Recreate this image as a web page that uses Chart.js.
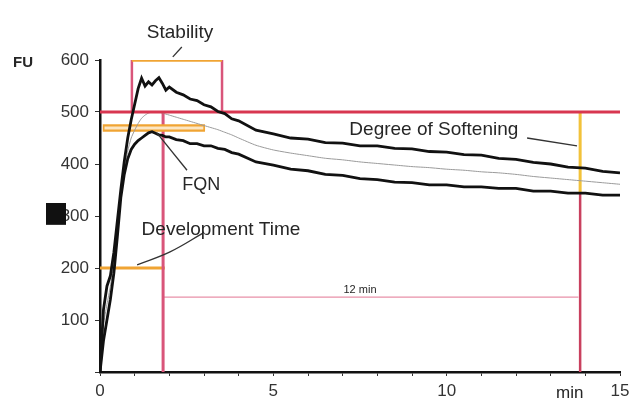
<!DOCTYPE html>
<html>
<head>
<meta charset="utf-8">
<script src="https://cdn.jsdelivr.net/npm/chart.js@4/dist/chart.umd.min.js"></script>
<style>
  html, body { margin: 0; padding: 0; background: #fff; }
  #wrap { width: 638px; height: 407px; }
</style>
</head>
<body>
<div id="wrap"><canvas id="farino" width="638" height="407"></canvas></div>
<script>
// ═══ 파리노그래프 데이터 ═══
const times   = [0, 0.1, 0.2, 0.3, 0.4, 0.5, 0.6, 0.7, 0.8, 0.9, 1.0, 1.1, 1.2, 1.3, 1.4, 1.5, 1.6, 1.7, 1.8, 1.9,
                 2.0, 2.2, 2.4, 2.6, 2.8, 3.0, 3.2, 3.4, 3.6, 3.8, 4.0, 4.5, 5, 5.5, 6, 6.5, 7, 7.5, 8, 8.5,
                 9, 9.5, 10, 10.5, 11, 11.5, 12, 12.5, 13, 13.5, 14, 14.5, 15];
const upperFU = [0, 120, 165, 185, 230, 290, 350, 405, 450, 485, 515, 545, 565, 550, 558, 552, 560, 566, 555, 542,
                 548, 538, 533, 525, 522, 514, 510, 501, 497, 487, 483, 465, 458, 450, 448, 441, 440, 435, 435, 430,
                 429, 424, 423, 418, 417, 411, 409, 403, 400, 394, 392, 386, 383];
const lowerFU = [0, 60, 100, 140, 190, 260, 335, 380, 410, 428, 438, 445, 450, 455, 460, 462, 459, 456, 455, 452,
                 452, 447, 445, 439, 439, 435, 435, 430, 428, 422, 419, 404, 398, 390, 387, 380, 378, 372, 370, 365,
                 364, 360, 360, 356, 356, 353, 353, 348, 348, 344, 344, 340, 340];
const midFU   = [0, 90, 130, 165, 210, 275, 340, 390, 425, 450, 465, 478, 488, 494, 498, 500, 501, 500, 498, 496,
                 494, 490, 486, 482, 478, 474, 470, 466, 461, 456, 450, 436, 427, 421, 416, 411, 408, 404, 401, 398,
                 395, 393, 390, 388, 385, 383, 380, 376, 373, 370, 367, 364, 361];

const xTickLabels = ['0', '5', '10', '15'];
const yTickLabels = ['100', '200', '300', '400', '500', '600'];

// 평가 지표 (분, FU)
const consistencyLine = 500;
const stabilityStart  = 0.92;
const stabilityEnd    = 3.52;
const fqnTime         = 1.82;
const devTimeFU       = 200;
const softeningTime   = 13.85;
const softeningFU     = 344;
const bandFU          = 469;
const bandStart       = 0.08;
const bandEnd         = 3.03;
const twelveMinFU     = 144;

const RED    = '#d83650';
const PINK   = '#d9557a';
const ORANGE = '#f0a433';
const FONT   = '"Liberation Sans", Arial, sans-serif';

function pts(xs, ys) {
    return xs.map((x, i) => ({ x, y: ys[i] }));
}
function seg(x1, y1, x2, y2, color, width, extra) {
    return Object.assign({
        data: [{ x: x1, y: y1 }, { x: x2, y: y2 }],
        borderColor: color, borderWidth: width,
        pointRadius: 0, tension: 0, fill: false
    }, extra || {});
}

const labelTexts = [
    { text: 'Stability',           x: 2.31, y: 652, size: 19 },
    { text: 'Degree of Softening', x: 9.63, y: 465, size: 19 },
    { text: 'FQN',                 x: 2.92, y: 360, size: 18 },
    { text: 'Development Time',    x: 3.49, y: 273, size: 19 },
    { text: '12 min',              x: 7.5,  y: 158, size: 11 }
];

const textPlugin = {
    id: 'farinoText',
    afterDraw(chart) {
        const { ctx, scales: { x, y } } = chart;
        ctx.save();
        ctx.fillStyle = '#262626';
        ctx.textAlign = 'center';
        ctx.textBaseline = 'middle';
        labelTexts.forEach(l => {
            ctx.font = `${l.size}px ${FONT}`;
            ctx.fillText(l.text, x.getPixelForValue(l.x), y.getPixelForValue(l.y));
        });
        ctx.font = `bold 15px ${FONT}`;
        ctx.fillText('FU', 23, y.getPixelForValue(600) + 3);
        ctx.font = `17px ${FONT}`;
        ctx.fillText('min', x.getPixelForValue(13.55), 393);
        // 300 라벨의 '3'을 덮는 검은 사각형
        ctx.fillStyle = '#111';
        const top = y.getPixelForValue(325), bot = y.getPixelForValue(283);
        ctx.fillRect(46, top, 20, bot - top);
        ctx.restore();
    }
};

// 배열 앞쪽이 위에 그려짐
new Chart(document.getElementById('farino'), {
    type: 'line',
    data: {
        datasets: [
            // 지시선
            seg(2.36, 625, 2.1, 606, '#333', 1.3, { clip: false }),
            seg(12.32, 450, 13.76, 435, '#333', 1.3),
            seg(2.51, 388, 1.64, 460, '#333', 1.3),
            { data: [{ x: 2.97, y: 267 }, { x: 2.02, y: 231 }, { x: 1.07, y: 206 }],
              borderColor: '#333', borderWidth: 1.3, pointRadius: 0, tension: 0.4 },
            // 곡선
            { data: pts(times, upperFU), borderColor: '#111', borderWidth: 2.8, pointRadius: 0, tension: 0 },
            { data: pts(times, lowerFU), borderColor: '#111', borderWidth: 2.8, pointRadius: 0, tension: 0 },
            seg(0, consistencyLine, 15, consistencyLine, RED, 3.2),
            { data: pts(times, midFU),   borderColor: '#9a9a9a', borderWidth: 1, pointRadius: 0, tension: 0.2 },
            // 안정도 박스 / 평가선
            seg(bandStart + 0.05, bandFU, bandEnd - 0.05, bandFU, '#fbe6c4', 3),
            seg(bandStart, bandFU, bandEnd, bandFU, ORANGE, 7.5),
            seg(stabilityStart, 600, stabilityEnd, 600, ORANGE, 3.5),
            seg(stabilityStart, consistencyLine, stabilityStart, 600, PINK, 2.5),
            seg(stabilityEnd, consistencyLine, stabilityEnd, 600, PINK, 2.5),
            seg(fqnTime, 0, fqnTime, consistencyLine, PINK, 3),
            seg(0, devTimeFU, fqnTime + 0.05, devTimeFU, ORANGE, 3),
            seg(softeningTime, consistencyLine, softeningTime, softeningFU, '#f2c23a', 3),
            seg(softeningTime, softeningFU, softeningTime, 0, '#c9405e', 2.5),
            seg(fqnTime, twelveMinFU, softeningTime - 0.05, twelveMinFU, '#e890a8', 1.2)
        ]
    },
    options: {
        responsive: false,
        animation: false,
        events: [],
        layout: { padding: { top: 60, right: 18, left: 0, bottom: 0 } },
        plugins: { legend: { display: false }, tooltip: { enabled: false } },
        scales: {
            x: {
                type: 'linear', min: 0, max: 15,
                afterFit: s => { s.height = 35; },
                border: { color: '#111', width: 2.5 },
                grid: { drawOnChartArea: false, drawTicks: true, tickLength: 4, color: '#333' },
                ticks: {
                    stepSize: 1, autoSkip: false, maxRotation: 0, padding: 5,
                    color: '#333', font: { size: 17, family: FONT },
                    callback: v => (v % 5 === 0 ? xTickLabels[v / 5] : '')
                }
            },
            y: {
                min: 0, max: 600,
                afterFit: s => { s.width = 100; },
                border: { color: '#111', width: 2.5 },
                grid: { drawOnChartArea: false, drawTicks: true, tickLength: 5, color: '#333' },
                ticks: {
                    stepSize: 100, padding: 6,
                    color: '#333', font: { size: 17, family: FONT },
                    callback: v => (v === 0 ? '' : yTickLabels[v / 100 - 1])
                }
            }
        }
    },
    plugins: [textPlugin]
});
</script>
</body>
</html>
